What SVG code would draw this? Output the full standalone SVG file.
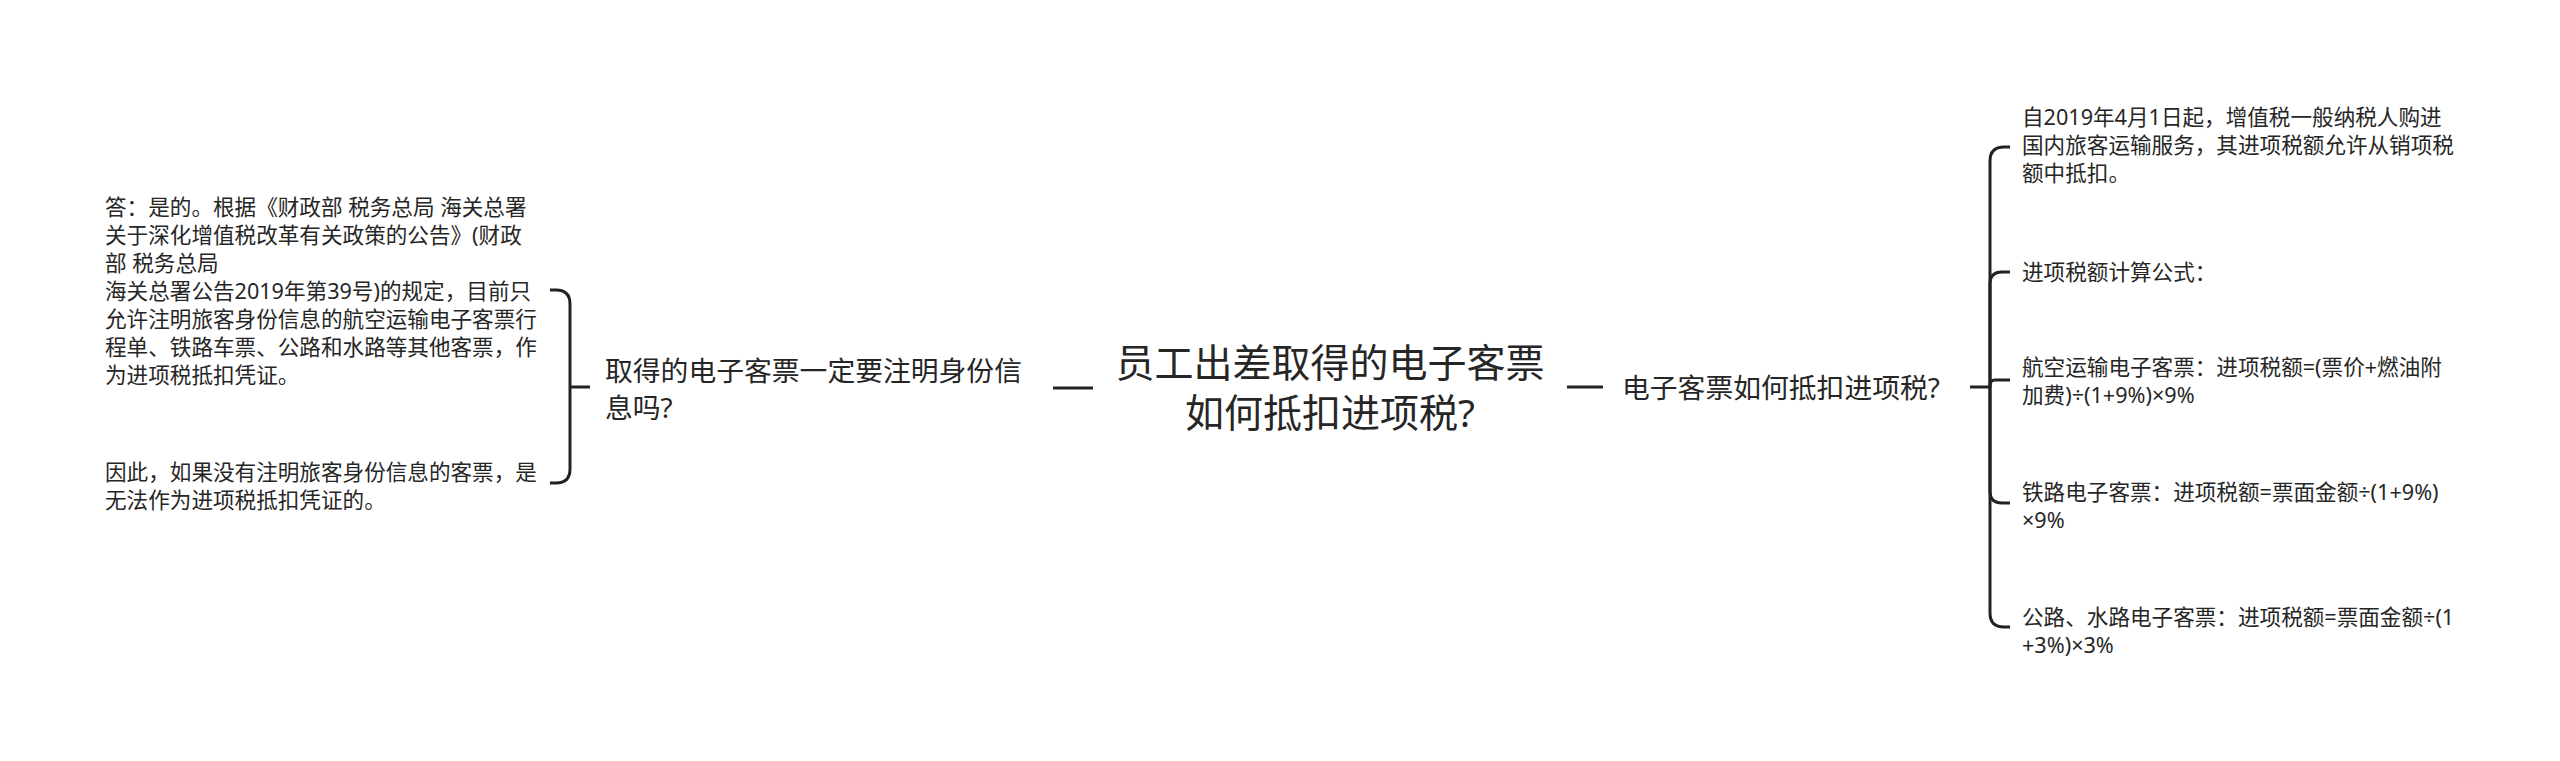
<svg xmlns="http://www.w3.org/2000/svg" width="2560" height="761" viewBox="0 0 2560 761">
<style>
text { font-family: "Noto Sans", "Noto Sans CJK SC", sans-serif; fill: #262626; }
.leaf { font-size: 21.6px; }
.sub { font-size: 27.8px; }
.root { font-size: 39px; }
.conn path { fill: none; stroke: #222; stroke-width: 3; stroke-linecap: butt; }
</style>
<rect width="2560" height="761" fill="#ffffff"/>
<g class="conn" id="connectors">
  <path d="M1053,388 L1093,388"/>
  <path d="M1567,387 L1603,387"/>
  <path d="M590,387 L570,387"/>
  <path d="M570,387 L570,304 Q570,290 556,290 L550,290"/>
  <path d="M570,387 L570,469 Q570,483 556,483 L550,483"/>
  <path d="M1970,387 L1990,387"/>
  <path d="M1990,387 L1990,161 Q1990,147 2004,147 L2010,147"/>
  <path d="M1990,387 L1990,284 Q1990,272 2002,272 L2010,272"/>
  <path d="M1990,387 L1990,385 Q1990,380 1995,380 L2010,380"/>
  <path d="M1990,387 L1990,491 Q1990,503 2002,503 L2010,503"/>
  <path d="M1990,387 L1990,613 Q1990,627 2004,627 L2010,627"/>
</g>
<g id="root">
  <text class="root" x="1330" y="377" text-anchor="middle">员工出差取得的电子客票</text>
  <text class="root" x="1330" y="427" text-anchor="middle">如何抵扣进项税?</text>
</g>
<g id="left-node">
  <text class="sub" x="605" y="381">取得的电子客票一定要注明身份信</text>
  <text class="sub" x="605" y="418">息吗?</text>
</g>
<g id="left-leaf-1">
  <text class="leaf" x="105" y="215">答：是的。根据《财政部 税务总局 海关总署</text>
  <text class="leaf" x="105" y="243">关于深化增值税改革有关政策的公告》(财政</text>
  <text class="leaf" x="105" y="271">部 税务总局</text>
  <text class="leaf" x="105" y="299">海关总署公告2019年第39号)的规定，目前只</text>
  <text class="leaf" x="105" y="327">允许注明旅客身份信息的航空运输电子客票行</text>
  <text class="leaf" x="105" y="355">程单、铁路车票、公路和水路等其他客票，作</text>
  <text class="leaf" x="105" y="383">为进项税抵扣凭证。</text>
</g>
<g id="left-leaf-2">
  <text class="leaf" x="105" y="480">因此，如果没有注明旅客身份信息的客票，是</text>
  <text class="leaf" x="105" y="508">无法作为进项税抵扣凭证的。</text>
</g>
<g id="right-node">
  <text class="sub" x="1622" y="398">电子客票如何抵扣进项税?</text>
</g>
<g id="right-leaf-1">
  <text class="leaf" x="2022" y="125">自2019年4月1日起，增值税一般纳税人购进</text>
  <text class="leaf" x="2022" y="153">国内旅客运输服务，其进项税额允许从销项税</text>
  <text class="leaf" x="2022" y="181">额中抵扣。</text>
</g>
<g id="right-leaf-2">
  <text class="leaf" x="2022" y="280">进项税额计算公式：</text>
</g>
<g id="right-leaf-3">
  <text class="leaf" x="2022" y="375">航空运输电子客票：进项税额=(票价+燃油附</text>
  <text class="leaf" x="2022" y="403">加费)÷(1+9%)×9%</text>
</g>
<g id="right-leaf-4">
  <text class="leaf" x="2022" y="500">铁路电子客票：进项税额=票面金额÷(1+9%)</text>
  <text class="leaf" x="2022" y="528">×9%</text>
</g>
<g id="right-leaf-5">
  <text class="leaf" x="2022" y="625">公路、水路电子客票：进项税额=票面金额÷(1</text>
  <text class="leaf" x="2022" y="653">+3%)×3%</text>
</g>
</svg>
